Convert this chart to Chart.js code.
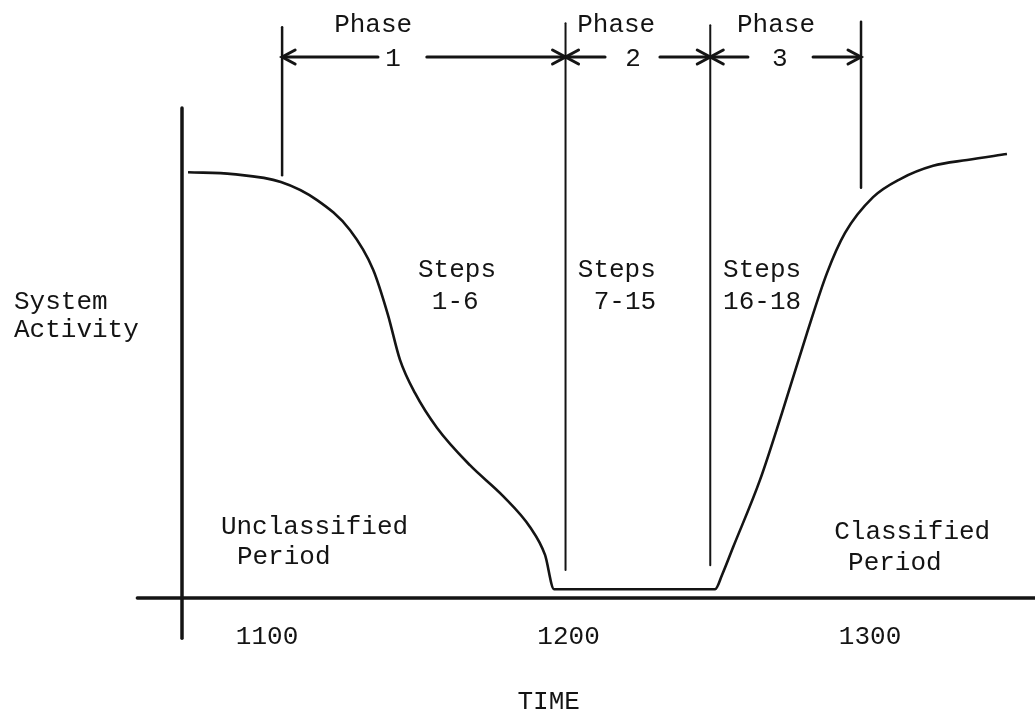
<!DOCTYPE html>
<html>
<head>
<meta charset="utf-8">
<script src="https://cdn.jsdelivr.net/npm/chart.js@4"></script>
<style>
  html, body { margin: 0; padding: 0; background: #fff; }
  canvas { display: block; }
</style>
</head>
<body>
<canvas id="activityChart" width="1035" height="711"></canvas>
<script>
// curve: system activity over time
const times = [1073.8, 1088.7, 1104.6, 1116.6, 1127.5, 1135.2, 1140.1, 1144.1, 1149.1, 1156.4,
               1167.3, 1178.3, 1187.2, 1192.2, 1195.2, 1248.6, 1250.9, 1254.6, 1263.5, 1270.8,
               1279.1, 1285.7, 1291.7, 1301.0, 1310.0, 1320.9, 1332.2, 1345.4];
const activity = [86.9, 86.5, 84.9, 81.2, 75.1, 67.0, 57.8, 48.6, 41.8, 34.7,
                  27.1, 20.8, 14.5, 8.8, 1.8, 1.8, 4.7, 10.4, 24.1, 37.8,
                  54.1, 66.3, 74.5, 81.8, 85.5, 88.2, 89.4, 90.6];

// time axis
const tickLabels = [1100, 1200, 1300];
const axisTitle = 'TIME';
const activityTitle = ['System', 'Activity'];

// phases
const phaseBounds = [1105, 1199, 1247, 1297];
const phaseNumbers = ['1', '2', '3'];
const stepTitles = ['Steps', 'Steps', 'Steps'];
const stepRanges = ['1-6', '7-15', '16-18'];
const periodLeft = ['Unclassified', 'Period'];
const periodRight = ['Classified', 'Period'];

// annotation placement (data units)
const phaseWordAt = [1135.2, 1215.8, 1268.8];
const phaseNumberAt = [1141.8, 1221.4, 1270.1];
const phaseGaps = [[1136.8, 1153], [1212.1, 1230.3], [1259.5, 1281.1]];
const boundTops = [116.5, 117.3, 116.9, 117.6];
const boundBottoms = [86.3, 5.7, 6.7, 83.7];
const stepTitleAt = [1163, 1216, 1264.2];
const stepRangeAt = [1162.4, 1218.7, 1264.2];

const ink = '#141414';
const mono = "26px 'Liberation Mono', 'DejaVu Sans Mono', monospace";

const diagram = {
    id: 'diagram',
    afterDatasetsDraw(chart) {
        const { ctx, chartArea } = chart;
        const xs = chart.scales.x, ys = chart.scales.y;
        const px = v => xs.getPixelForValue(v);
        const py = v => ys.getPixelForValue(v);

        const seg = (x1, y1, x2, y2, w) => {
            ctx.lineWidth = w;
            ctx.beginPath();
            ctx.moveTo(x1, y1);
            ctx.lineTo(x2, y2);
            ctx.stroke();
        };
        const head = (x, y, dir) => {
            ctx.lineWidth = 3;
            ctx.beginPath();
            ctx.moveTo(x - dir * 13, y - 7);
            ctx.lineTo(x, y);
            ctx.lineTo(x - dir * 13, y + 7);
            ctx.stroke();
        };
        const text = (s, x, y, align) => {
            ctx.textAlign = align || 'center';
            ctx.fillText(s, x, y);
        };

        ctx.save();
        ctx.strokeStyle = ink;
        ctx.fillStyle = ink;
        ctx.lineCap = 'round';
        ctx.font = mono;
        ctx.textBaseline = 'middle';

        // axes
        seg(px(1057), py(0), chartArea.right, py(0), 3.5);
        seg(chartArea.left, py(100), chartArea.left, py(-8.2), 3.5);

        // tick labels and titles
        tickLabels.forEach(t => text(String(t), px(t), py(0) + 39));
        text(axisTitle, px(1193.4), py(0) + 104);
        text(activityTitle[0], 14, py(60.4), 'left');
        text(activityTitle[1], 14, py(54.7), 'left');

        // phase boundaries
        phaseBounds.forEach((t, i) => {
            seg(px(t), py(boundTops[i]), px(t), py(boundBottoms[i]), (i === 0 || i === 3) ? 2.5 : 2);
        });

        // phase arrows and labels
        const arrowY = py(110.4);
        phaseNumbers.forEach((n, i) => {
            const a = px(phaseBounds[i]), b = px(phaseBounds[i + 1]);
            seg(a, arrowY, px(phaseGaps[i][0]), arrowY, 3);
            seg(px(phaseGaps[i][1]), arrowY, b, arrowY, 3);
            head(a, arrowY, -1);
            head(b, arrowY, 1);
            text(n, px(phaseNumberAt[i]), arrowY + 2);
            text('Phase', px(phaseWordAt[i]), py(116.9));
            text(stepTitles[i], px(stepTitleAt[i]), py(66.9));
            text(stepRanges[i], px(stepRangeAt[i]), py(60.4));
        });

        // period labels
        text(periodLeft[0], px(1084.7), py(14.5), 'left');
        text(periodLeft[1], px(1090), py(8.4), 'left');
        text(periodRight[0], px(1288.1), py(13.5), 'left');
        text(periodRight[1], px(1292.7), py(7.1), 'left');

        ctx.restore();
    }
};

new Chart(document.getElementById('activityChart'), {
    type: 'line',
    data: {
        datasets: [{
            data: times.map((t, i) => ({ x: t, y: activity[i] })),
            borderColor: ink,
            borderWidth: 2.6,
            pointRadius: 0,
            fill: false,
            cubicInterpolationMode: 'monotone',
            clip: false
        }]
    },
    options: {
        responsive: false,
        animation: false,
        layout: { padding: { left: 182, right: 0, top: 108, bottom: 113 } },
        scales: {
            x: { type: 'linear', min: 1071.8, max: 1354.7, display: false },
            y: { min: 0, max: 100, display: false }
        },
        plugins: {
            legend: { display: false },
            tooltip: { enabled: false }
        }
    },
    plugins: [diagram]
});
</script>
</body>
</html>
